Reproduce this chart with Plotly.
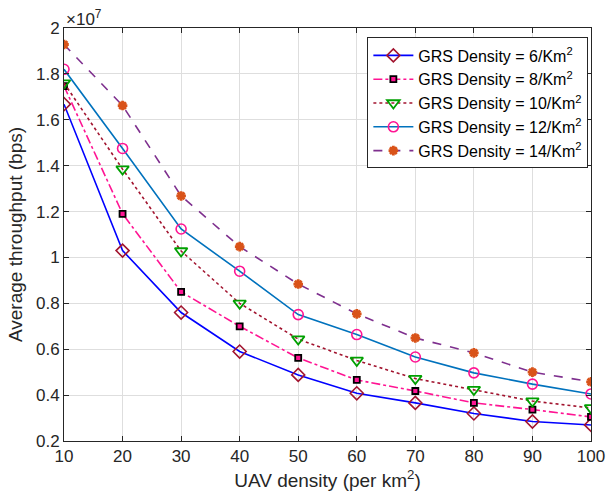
import plotly.graph_objects as go

uav_density = [10, 20, 30, 40, 50, 60, 70, 80, 90, 100]
grs_6 = [1.668, 1.03, 0.76, 0.59, 0.488, 0.408, 0.366, 0.32, 0.285, 0.27]
grs_8 = [1.747, 1.19, 0.85, 0.70, 0.562, 0.466, 0.418, 0.366, 0.337, 0.305]
grs_10 = [1.76, 1.385, 1.028, 0.80, 0.644, 0.551, 0.472, 0.424, 0.374, 0.344]
grs_12 = [1.82, 1.475, 1.124, 0.94, 0.751, 0.664, 0.566, 0.497, 0.448, 0.405]
grs_14 = [1.928, 1.662, 1.268, 1.047, 0.884, 0.754, 0.649, 0.584, 0.50, 0.458]
y_ticks = [0.2, 0.4, 0.6, 0.8, 1.0, 1.2, 1.4, 1.6, 1.8, 2.0]
y_tick_labels = ["0.2", "0.4", "0.6", "0.8", "1", "1.2", "1.4", "1.6", "1.8", "2"]

series = [
    ("GRS Density = 6/Km<sup>2</sup>", grs_6, dict(color="#0000FF", width=1.6, dash="solid"),
     dict(symbol="diamond-open", size=10, color="#A2142F", line=dict(width=1.6))),
    ("GRS Density = 8/Km<sup>2</sup>", grs_8, dict(color="#FF1493", width=1.6, dash="dashdot"),
     dict(symbol="square", size=6, color="#FF1493", line=dict(width=1.8, color="black"))),
    ("GRS Density = 10/Km<sup>2</sup>", grs_10, dict(color="#A2142F", width=1.6, dash="dot"),
     dict(symbol="triangle-down-open", size=11, color="#00A000", line=dict(width=1.8))),
    ("GRS Density = 12/Km<sup>2</sup>", grs_12, dict(color="#0072BD", width=1.6, dash="solid"),
     dict(symbol="circle-open", size=10, color="#FF1493", line=dict(width=1.6))),
    ("GRS Density = 14/Km<sup>2</sup>", grs_14, dict(color="#7E2F8E", width=1.6, dash="dash"),
     dict(symbol="asterisk-open", size=8, color="#D95319", line=dict(width=2.8, color="#D95319"))),
]

fig = go.Figure()
for name, ys, ln, mk in series:
    fig.add_trace(go.Scatter(x=uav_density, y=ys, mode="lines+markers", name=name,
                             line=ln, marker=mk))

axis_common = dict(showline=True, linecolor="#262626", linewidth=1, mirror="ticks",
                   ticks="inside", ticklen=5, tickcolor="#262626", automargin=False,
                   showgrid=True, gridcolor="#DEDEDE", gridwidth=1, zeroline=False,
                   tickfont=dict(size=17, color="#262626"))

fig.update_layout(
    width=607, height=502,
    margin=dict(l=64, r=16, t=28, b=61),
    paper_bgcolor="white", plot_bgcolor="white",
    font=dict(family="Liberation Sans, Arial, sans-serif", size=17, color="#262626"),
    xaxis=dict(range=[10, 100], tickvals=uav_density,
               title=dict(text="UAV density (per km<sup>2</sup>)", font=dict(size=19), standoff=8),
               **axis_common),
    yaxis=dict(range=[0.2, 2.0], tickvals=y_ticks, ticktext=y_tick_labels,
               title=dict(text="Average throughput (bps)", font=dict(size=19), standoff=8),
               **axis_common),
    legend=dict(x=0.995, y=0.977, xanchor="right", yanchor="top",
                bgcolor="white", bordercolor="#262626", borderwidth=1,
                font=dict(size=16, color="black"), tracegroupgap=0, itemwidth=40),
    showlegend=True,
)
fig.add_annotation(text="×10<sup>7</sup>", xref="paper", yref="paper", x=0.0, y=1.0,
                   xanchor="left", yanchor="bottom", showarrow=False,
                   font=dict(size=17, color="#262626"), yshift=-3)

fig.write_html("out.html", config={"displayModeBar": False},
               post_script="document.body.style.margin='0';document.body.style.overflow='hidden';")
